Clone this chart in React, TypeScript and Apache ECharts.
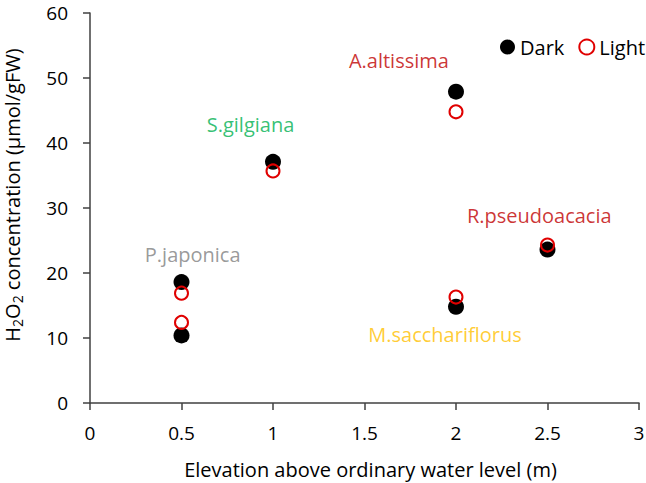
import React, { useEffect, useRef } from "react";
import * as echarts from "echarts";

const xTicks = [0, 0.5, 1, 1.5, 2, 2.5, 3];
const yTicks = [0, 10, 20, 30, 40, 50, 60];

const darkX = [0.5, 0.5, 1, 2, 2, 2.5];
const darkY = [18.6, 10.4, 37.1, 47.9, 14.8, 23.6];
const lightX = [0.5, 0.5, 1, 2, 2, 2.5];
const lightY = [16.9, 12.4, 35.7, 44.8, 16.3, 24.3];

const speciesNames = ["A.altissima", "S.gilgiana", "P.japonica", "R.pseudoacacia", "M.sacchariflorus"];
const speciesX = [1.688, 0.877, 0.561, 2.455, 1.94];
const speciesY = [52.7, 42.9, 22.8, 28.8, 10.5];
const speciesColors = ["#C00000", "#00B050", "#808080", "#C00000", "#FFC000"];

const FONT = "Open Sans";

export default function App() {
  const ref = useRef<HTMLDivElement>(null);
  useEffect(() => {
    if (!ref.current) return;
    const chart = echarts.init(ref.current, null, { renderer: "svg" });
    const axisLineColor = "#404040";
    chart.setOption({
      animation: false,
      textStyle: { fontFamily: FONT },
      grid: { left: 90, right: 7, top: 13, bottom: 80, containLabel: false, outerBoundsMode: "none" },
      legend: {
        data: ["Dark", "Light"],
        left: 500,
        top: 37,
        width: 240,
        padding: 0,
        itemWidth: 15,
        itemHeight: 15,
        itemGap: 14,
        icon: "circle",
        textStyle: { fontSize: 20, color: "#000", fontFamily: FONT },
      },
      xAxis: {
        type: "value",
        min: xTicks[0],
        max: xTicks[xTicks.length - 1],
        interval: 0.5,
        name: "Elevation above ordinary water level (m)",
        nameLocation: "middle",
        nameGap: 55,
        nameTextStyle: { fontSize: 20, lineHeight: 22, color: "#000", fontFamily: FONT, padding: [0, 0, 0, 12] },
        axisLine: { show: true, lineStyle: { color: axisLineColor, width: 1.5 } },
        axisTick: { show: true, inside: false, length: 7, lineStyle: { color: axisLineColor, width: 1.5 } },
        axisLabel: { fontSize: 19, color: "#000", margin: 20, fontFamily: FONT },
        splitLine: { show: false },
      },
      yAxis: {
        type: "value",
        min: yTicks[0],
        max: yTicks[yTicks.length - 1],
        interval: 10,
        name: "{n|H}{s|2}{n|O}{s|2}{n| concentration (μmol/gFW)}",
        nameLocation: "middle",
        nameGap: 66,
        nameRotate: 90,
        nameTextStyle: {
          fontFamily: FONT,
          color: "#000",
          padding: [0, 0, 0, 26],
          rich: {
            n: { fontSize: 20, color: "#000", fontFamily: FONT },
            s: { fontSize: 14, color: "#000", fontFamily: FONT, padding: [10, 0, 0, 0] },
          },
        },
        axisLine: { show: true, lineStyle: { color: axisLineColor, width: 1.5 } },
        axisTick: { show: true, inside: false, length: 7, lineStyle: { color: axisLineColor, width: 1.5 } },
        axisLabel: { fontSize: 19, color: "#000", margin: 22, fontFamily: FONT },
        splitLine: { show: false },
      },
      series: [
        {
          name: "Dark",
          type: "scatter",
          symbol: "circle",
          symbolSize: 16,
          itemStyle: { color: "#000", opacity: 1 },
          data: darkX.map((x, i) => [x, darkY[i]]),
          z: 2,
        },
        {
          name: "Light",
          type: "scatter",
          symbol: "circle",
          symbolSize: 13,
          itemStyle: { color: "rgba(0,0,0,0)", borderColor: "#E00000", borderWidth: 2, opacity: 1 },
          data: lightX.map((x, i) => [x, lightY[i]]),
          z: 3,
        },
        {
          name: "labels",
          type: "scatter",
          symbolSize: 0,
          silent: true,
          data: speciesNames.map((n, i) => ({
            value: [speciesX[i], speciesY[i]],
            name: n,
            label: {
              show: true,
              position: "inside",
              formatter: n,
              color: speciesColors[i],
              fontSize: 20,
              fontFamily: FONT,
            },
          })),
          z: 4,
        },
      ],
    });
    return () => chart.dispose();
  }, []);
  return <div ref={ref} style={{ width: 646, height: 483, position: "absolute", left: 0, top: 0 }} />;
}
